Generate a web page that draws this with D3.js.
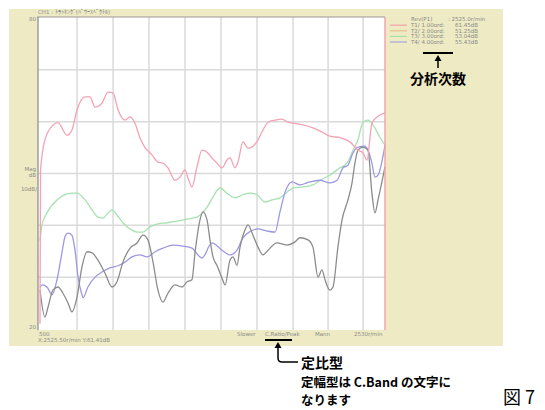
<!DOCTYPE html>
<html>
  <head>
    <meta charset="utf-8">
    <title>Tracking</title>
    <style>
      body { margin: 0; background: #fff; }
      svg { display: block; }
      .small { font-family: "DejaVu Sans", sans-serif; font-size: 5.5px; fill: #8a8a8a; }
      .note { font-family: "Noto Sans CJK JP", sans-serif; font-weight: bold; fill: #000; }
    </style>
  </head>
  <body>
    <div id="chart"></div>
    <script src="https://cdn.jsdelivr.net/npm/d3@7"></script>
    <script>
    // rpm / dB pairs
    var t1 = [[500,21],[503,50.5],[529,56.5],[576,59.3],[606,59.8],[659,57.4],[688,58.4],[718,62.3],[765,64.8],[794,64.8],
      [824,62.8],[865,63.6],[900,65.7],[930,65.5],[959,62.3],[1000,60.3],[1030,60.9],[1059,59.7],[1088,56.9],[1118,55.0],
      [1159,53.6],[1194,52.2],[1224,52.0],[1253,51.1],[1294,48.7],[1324,49.3],[1353,50.7],[1371,49.1],[1394,47.4],[1424,51.3],
      [1453,54.5],[1483,54.1],[1512,53.0],[1541,52.0],[1571,51.1],[1600,52.6],[1618,53.0],[1647,51.1],[1665,52.2],[1694,56.1],
      [1724,54.9],[1747,55.1],[1783,56.5],[1812,58.4],[1842,59.9],[1883,60.3],[1924,60.5],[1959,59.9],[1989,59.7],[2047,59.4],
      [2106,58.8],[2159,58.0],[2206,57.2],[2265,56.9],[2324,56.1],[2371,54.5],[2400,54.0],[2424,52.6],[2453,59.7],[2483,60.9],[2530,61.7]];
    var t2 = [[500,27.5],[529,22.3],[547,24.2],[576,27.5],[606,28.1],[635,26.9],[665,25.0],[688,23.3],[718,26.2],[747,32.0],
      [777,34.9],[806,34.7],[841,33.3],[882,30.8],[924,28.1],[953,29.1],[988,32.9],[1030,35.6],[1071,36.6],[1106,38.1],
      [1135,37.2],[1165,32.9],[1194,27.5],[1224,25.2],[1253,26.9],[1294,28.5],[1336,28.1],[1365,29.1],[1394,29.5],[1412,34.7],
      [1441,41.0],[1459,42.6],[1483,41.0],[1500,37.2],[1518,33.9],[1541,32.3],[1571,29.8],[1589,28.5],[1618,33.3],[1636,33.9],
      [1659,32.3],[1677,35.8],[1706,39.1],[1724,40.1],[1753,38.1],[1783,35.8],[1812,34.3],[1842,35.2],[1894,36.6],[1953,36.2],
      [2000,36.8],[2030,37.6],[2077,37.2],[2106,35.8],[2136,30.0],[2159,31.4],[2177,29.5],[2206,27.5],[2224,28.1],[2253,35.8],
      [2277,41.0],[2312,44.9],[2336,48.2],[2353,52.0],[2371,54.5],[2400,55.1],[2430,54.5],[2453,46.2],[2471,42.4],[2489,44.9],[2530,51.3]];
    var t3 = [[500,37.0],[512,40.1],[541,42.4],[600,44.9],[688,46.2],[718,46.2],[765,44.9],[806,43.0],[841,41.6],[871,41.4],
      [900,42.4],[924,43.0],[953,42.0],[988,40.5],[1030,39.3],[1071,38.7],[1106,38.7],[1147,39.7],[1194,40.3],[1247,40.5],
      [1306,40.8],[1365,41.2],[1424,41.6],[1483,43.5],[1518,45.5],[1559,47.2],[1600,46.2],[1647,45.3],[1694,45.9],[1736,46.2],
      [1777,45.9],[1824,44.5],[1865,44.9],[1912,45.3],[1953,46.4],[1989,47.2],[2047,47.4],[2106,47.8],[2148,48.7],[2206,49.7],
      [2265,51.1],[2306,52.0],[2342,54.5],[2371,56.5],[2400,59.9],[2430,60.3],[2459,59.4],[2500,57.0],[2530,55.5]];
    var t4 = [[500,28.0],[512,28.5],[541,28.1],[571,26.6],[600,29.5],[629,34.7],[647,37.8],[665,38.5],[688,38.1],[706,35.2],
      [724,30.0],[747,26.6],[753,26.0],[782,28.1],[824,30.0],[865,31.0],[912,31.8],[959,32.2],[1000,32.9],[1041,33.9],
      [1088,34.3],[1130,33.9],[1177,34.9],[1224,35.6],[1283,36.2],[1341,36.0],[1394,35.6],[1441,33.9],[1453,33.7],[1512,36.6],
      [1571,35.2],[1618,34.3],[1659,35.2],[1694,37.6],[1736,38.8],[1783,39.3],[1836,38.9],[1883,38.7],[1912,42.6],[1942,46.4],
      [1983,48.4],[2030,47.8],[2071,48.2],[2148,48.7],[2206,48.2],[2248,48.7],[2283,51.1],[2312,51.6],[2342,54.0],[2371,55.1],
      [2412,55.3],[2430,54.5],[2453,52.0],[2471,49.3],[2489,49.7],[2530,55.5]];

    var gridX = [718, 930, 1141, 1353, 1565, 1777, 1989, 2195, 2401];
    var gridY = [30, 40, 50, 60, 70];

    var legendNames = ["T1/ 1.00ord:", "T2/ 2.00ord:", "T3/ 3.00ord:", "T4/ 4.00ord:"];
    var legendValues = ["61.45dB", "51.25dB", "53.04dB", "55.43dB"];
    var legendColors = ["#f2a0a8", "#e6c08e", "#a6e2a6", "#a8a6dc"];

    var svg = d3.select("#chart").append("svg").attr("width", 545).attr("height", 410);

    var x = d3.scaleLinear().domain([500, 2530]).range([40, 385]);
    var y = d3.scaleLinear().domain([20, 80]).range([329, 18]);

    // beige panel + white plot
    svg.append("rect").attr("x", 9).attr("y", 9).attr("width", 494).attr("height", 337).attr("fill", "#eeeac4");
    svg.append("rect").attr("x", 38).attr("y", 17).attr("width", 347).attr("height", 313).attr("fill", "#fff");

    var g = svg.append("g");
    g.selectAll(".gx").data(gridX).enter().append("line")
        .attr("x1", d => x(d)).attr("x2", d => x(d)).attr("y1", 17).attr("y2", 330)
        .attr("stroke", "#dadada").attr("stroke-width", 1.5);
    g.selectAll(".gy").data(gridY).enter().append("line")
        .attr("x1", 38).attr("x2", 385).attr("y1", d => y(d)).attr("y2", d => y(d))
        .attr("stroke", "#dadada").attr("stroke-width", 1.5);

    // frame
    g.append("line").attr("x1", 37).attr("x2", 385).attr("y1", 17).attr("y2", 17).attr("stroke", "#9a9a9a").attr("stroke-width", 1);
    g.append("line").attr("x1", 38).attr("x2", 38).attr("y1", 17).attr("y2", 330).attr("stroke", "#8a8a8a").attr("stroke-width", 1.2);

    var line = d3.line().x(d => x(d[0])).y(d => y(d[1])).curve(d3.curveMonotoneX);
    var series = [[t3, "#a6e2b0"], [t4, "#9c98e2"], [t2, "#8c8c8c"], [t1, "#f4a2b4"]];
    series.forEach(function(s) {
      g.append("path").datum(s[0]).attr("d", line)
          .attr("fill", "none").attr("stroke", s[1]).attr("stroke-width", 1.3);
    });

    // cursor line
    g.append("line").attr("x1", x(2530)).attr("x2", x(2530)).attr("y1", 17).attr("y2", 330)
        .attr("stroke", "#f2a4b0").attr("stroke-width", 1.5);

    // small instrument texts
    svg.append("text").attr("class", "small").attr("x", 38).attr("y", 14).text("CH1 : ﾄﾗｯｷﾝｸﾞ(ﾊﾟﾜｰｽﾍﾟｸﾄﾙ)");
    svg.append("text").attr("class", "small").attr("x", 36).attr("y", 21).attr("text-anchor", "end").text("80");
    svg.append("text").attr("class", "small").attr("x", 36).attr("y", 171).attr("text-anchor", "end").text("Mag");
    svg.append("text").attr("class", "small").attr("x", 36).attr("y", 177).attr("text-anchor", "end").text("dB");
    svg.append("text").attr("class", "small").attr("x", 37).attr("y", 191).attr("text-anchor", "end").text("10dB/");
    svg.append("text").attr("class", "small").attr("x", 36).attr("y", 329).attr("text-anchor", "end").text("20");
    svg.append("text").attr("class", "small").attr("x", 39).attr("y", 335.5).text("500");
    svg.append("text").attr("class", "small").attr("x", 38).attr("y", 342).text("X:2525.50r/min Y:61.41dB");
    svg.append("text").attr("class", "small").attr("x", 237).attr("y", 335.5).text("Slower");
    svg.append("text").attr("class", "small").attr("x", 265).attr("y", 335.5).text("C.Ratio/Peak");
    svg.append("text").attr("class", "small").attr("x", 315).attr("y", 335.5).text("Mann");
    svg.append("text").attr("class", "small").attr("x", 354).attr("y", 335.5).text("2530r/min");

    // legend
    svg.append("text").attr("class", "small").attr("x", 411).attr("y", 21).text("Rev(P1)");
    svg.append("text").attr("class", "small").attr("x", 448).attr("y", 21).text(":  2525.0r/min");
    legendNames.forEach(function(n, i) {
      var ly = 27 + i * 5.6;
      svg.append("line").attr("x1", 390).attr("x2", 407).attr("y1", ly - 1.8).attr("y2", ly - 1.8)
          .attr("stroke", legendColors[i]).attr("stroke-width", 1.2);
      svg.append("text").attr("class", "small").attr("x", 411).attr("y", ly).text(n);
      svg.append("text").attr("class", "small").attr("x", 455).attr("y", ly).text(legendValues[i]);
    });

    // annotations
    svg.append("line").attr("x1", 423).attr("x2", 453).attr("y1", 53).attr("y2", 53).attr("stroke", "#000").attr("stroke-width", 2);
    svg.append("line").attr("x1", 438).attr("x2", 438).attr("y1", 59).attr("y2", 68).attr("stroke", "#000").attr("stroke-width", 1.5);
    svg.append("path").attr("d", "M438,55 L434.5,61 L441.5,61 Z").attr("fill", "#000");
    svg.append("text").attr("class", "note").attr("x", 410).attr("y", 84).style("font-size", "14px").text("分析次数");

    svg.append("line").attr("x1", 265).attr("x2", 292).attr("y1", 340).attr("y2", 340).attr("stroke", "#000").attr("stroke-width", 2);
    svg.append("path").attr("d", "M278,346 L278,358 Q278,362 282,362 L298,362")
        .attr("fill", "none").attr("stroke", "#000").attr("stroke-width", 1.5);
    svg.append("path").attr("d", "M278,342 L274.5,348 L281.5,348 Z").attr("fill", "#000");
    svg.append("text").attr("class", "note").attr("x", 301).attr("y", 368).style("font-size", "14px").text("定比型");
    svg.append("text").attr("class", "note").attr("x", 301).attr("y", 387).style("font-size", "12.5px").text("定幅型は C.Band の文字に");
    svg.append("text").attr("class", "note").attr("x", 301).attr("y", 405).style("font-size", "12.5px").text("なります");
    svg.append("text").attr("x", 503).attr("y", 404)
        .style("font-family", "\"Noto Sans CJK JP\", sans-serif").style("font-size", "18px")
        .attr("fill", "#000").text("図 7");
    </script>
  </body>
</html>
